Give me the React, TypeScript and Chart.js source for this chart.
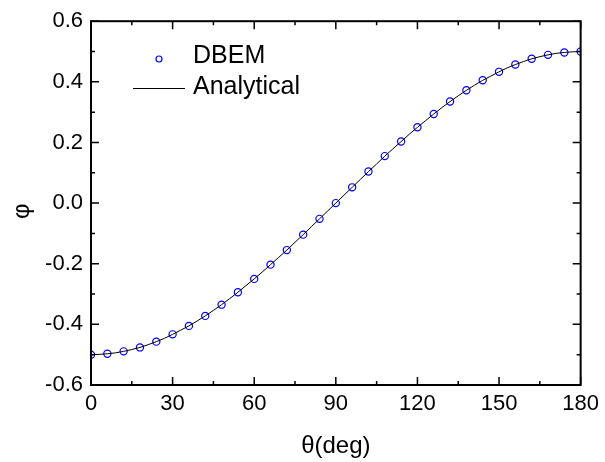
import React, { useEffect, useRef } from "react";
import { Chart, registerables } from "chart.js";

Chart.register(...registerables);

const dbemTheta = [0, 6, 12, 18, 24, 30, 36, 42, 48, 54, 60, 66, 72, 78, 84, 90, 96, 102, 108, 114, 120, 126, 132, 138, 144, 150, 156, 162, 168, 174, 180];
const dbemPhi = [-0.5, -0.497, -0.489, -0.476, -0.457, -0.433, -0.405, -0.372, -0.335, -0.294, -0.25, -0.203, -0.155, -0.104, -0.052, 0, 0.052, 0.104, 0.155, 0.203, 0.25, 0.294, 0.335, 0.372, 0.405, 0.433, 0.457, 0.476, 0.489, 0.497, 0.5];

const anaTheta = [0, 3, 6, 9, 12, 15, 18, 21, 24, 27, 30, 33, 36, 39, 42, 45, 48, 51, 54, 57, 60, 63, 66, 69, 72, 75, 78, 81, 84, 87, 90, 93, 96, 99, 102, 105, 108, 111, 114, 117, 120, 123, 126, 129, 132, 135, 138, 141, 144, 147, 150, 153, 156, 159, 162, 165, 168, 171, 174, 177, 180];
const anaPhi = [-0.5, -0.499, -0.497, -0.494, -0.489, -0.483, -0.476, -0.467, -0.457, -0.446, -0.433, -0.419, -0.405, -0.389, -0.372, -0.354, -0.335, -0.315, -0.294, -0.272, -0.25, -0.227, -0.203, -0.179, -0.155, -0.129, -0.104, -0.078, -0.052, -0.026, 0, 0.026, 0.052, 0.078, 0.104, 0.129, 0.155, 0.179, 0.203, 0.227, 0.25, 0.272, 0.294, 0.315, 0.335, 0.354, 0.372, 0.389, 0.405, 0.419, 0.433, 0.446, 0.457, 0.467, 0.476, 0.483, 0.489, 0.494, 0.497, 0.499, 0.5];

const xMajorTicks = [0, 30, 60, 90, 120, 150, 180];
const xMinorTicks = [15, 45, 75, 105, 135, 165];
const yMajorTicks = [-0.6, -0.4, -0.2, 0, 0.2, 0.4, 0.6];
const yMinorTicks = [-0.5, -0.3, -0.1, 0.1, 0.3, 0.5];

const seriesNames = ["DBEM", "Analytical"];
const xTitle = "θ(deg)";
const yTitle = "φ";

const FONT = "'Liberation Sans', Arial, sans-serif";

const framePlugin = {
  id: "frameTicks",
  afterDatasetsDraw(chart: any) {
    const { ctx, chartArea: a, scales } = chart;
    const xs = scales.x;
    const ys = scales.y;
    ctx.save();
    ctx.strokeStyle = "#000";
    ctx.lineWidth = 1.5;
    const major = 8;
    const minor = 4;
    ctx.beginPath();
    for (const v of xMajorTicks) {
      const px = xs.getPixelForValue(v);
      ctx.moveTo(px, a.bottom); ctx.lineTo(px, a.bottom - major);
      ctx.moveTo(px, a.top); ctx.lineTo(px, a.top + major);
    }
    for (const v of xMinorTicks) {
      const px = xs.getPixelForValue(v);
      ctx.moveTo(px, a.bottom); ctx.lineTo(px, a.bottom - minor);
      ctx.moveTo(px, a.top); ctx.lineTo(px, a.top + minor);
    }
    for (const v of yMajorTicks) {
      const py = ys.getPixelForValue(v);
      ctx.moveTo(a.left, py); ctx.lineTo(a.left + major, py);
      ctx.moveTo(a.right, py); ctx.lineTo(a.right - major, py);
    }
    for (const v of yMinorTicks) {
      const py = ys.getPixelForValue(v);
      ctx.moveTo(a.left, py); ctx.lineTo(a.left + minor, py);
      ctx.moveTo(a.right, py); ctx.lineTo(a.right - minor, py);
    }
    ctx.stroke();
    ctx.lineWidth = 2;
    ctx.strokeRect(a.left, a.top, a.right - a.left, a.bottom - a.top);

    // axis titles
    ctx.fillStyle = "#000";
    ctx.font = `24px ${FONT}`;
    ctx.textAlign = "center";
    ctx.textBaseline = "middle";
    ctx.fillText(xTitle, (a.left + a.right) / 2, 446);
    ctx.save();
    ctx.translate(22, (a.top + a.bottom) / 2 + 8);
    ctx.rotate(-Math.PI / 2);
    ctx.fillText(yTitle, 0, 0);
    ctx.restore();

    // legend
    ctx.font = `25px ${FONT}`;
    ctx.textAlign = "left";
    ctx.textBaseline = "middle";
    ctx.strokeStyle = "rgb(0,0,255)";
    ctx.lineWidth = 1.2;
    ctx.beginPath();
    ctx.arc(159, 59, 3, 0, Math.PI * 2);
    ctx.stroke();
    ctx.fillText(seriesNames[0], 193, 56);
    ctx.strokeStyle = "#000";
    ctx.lineWidth = 1;
    ctx.beginPath();
    ctx.moveTo(133, 88.5);
    ctx.lineTo(185, 88.5);
    ctx.stroke();
    ctx.fillText(seriesNames[1], 193, 87);
    ctx.restore();
  },
};

export default function App() {
  const ref = useRef<HTMLCanvasElement | null>(null);
  useEffect(() => {
    const canvas = ref.current!;
    const chart = new Chart(canvas, {
      type: "scatter",
      data: {
        datasets: [
          {
            label: seriesNames[1],
            data: anaTheta.map((t, i) => ({ x: t, y: anaPhi[i] })),
            showLine: true,
            borderColor: "#000",
            borderWidth: 1,
            pointRadius: 0,
            tension: 0,
            clip: 0,
            order: 0,
          },
          {
            label: seriesNames[0],
            data: dbemTheta.map((t, i) => ({ x: t, y: dbemPhi[i] })),
            showLine: false,
            borderColor: "rgb(0,0,255)",
            backgroundColor: "rgba(0,0,0,0)",
            borderWidth: 1.2,
            pointRadius: 3.6,
            clip: 0,
            order: 1,
          },
        ],
      },
      options: {
        animation: false,
        responsive: false,
        devicePixelRatio: 1,
        layout: { padding: { left: 0, right: 22, top: 20, bottom: 0 } },
        plugins: { legend: { display: false }, tooltip: { enabled: false } },
        scales: {
          x: {
            type: "linear",
            min: 0,
            max: 180,
            afterFit: (s: any) => { s.height = 77; },
            grid: { display: false, drawTicks: false },
            border: { display: false },
            ticks: {
              stepSize: 30,
              padding: 6,
              color: "#000",
              maxRotation: 0,
              font: { family: FONT, size: 22 },
              callback: (v: any) => String(Math.round(Number(v))),
            },
          },
          y: {
            type: "linear",
            min: -0.6,
            max: 0.6,
            afterFit: (s: any) => { s.width = 91; },
            grid: { display: false, drawTicks: false },
            border: { display: false },
            ticks: {
              stepSize: 0.2,
              padding: 8,
              color: "#000",
              font: { family: FONT, size: 22 },
              callback: (v: any) => Number(v).toFixed(1),
            },
          },
        },
      },
      plugins: [framePlugin],
    });
    return () => chart.destroy();
  }, []);
  return (
    <div style={{ position: "absolute", left: 0, top: 0, width: 605, height: 462, background: "#fff" }}>
      <canvas ref={ref} width={605} height={462} />
    </div>
  );
}
